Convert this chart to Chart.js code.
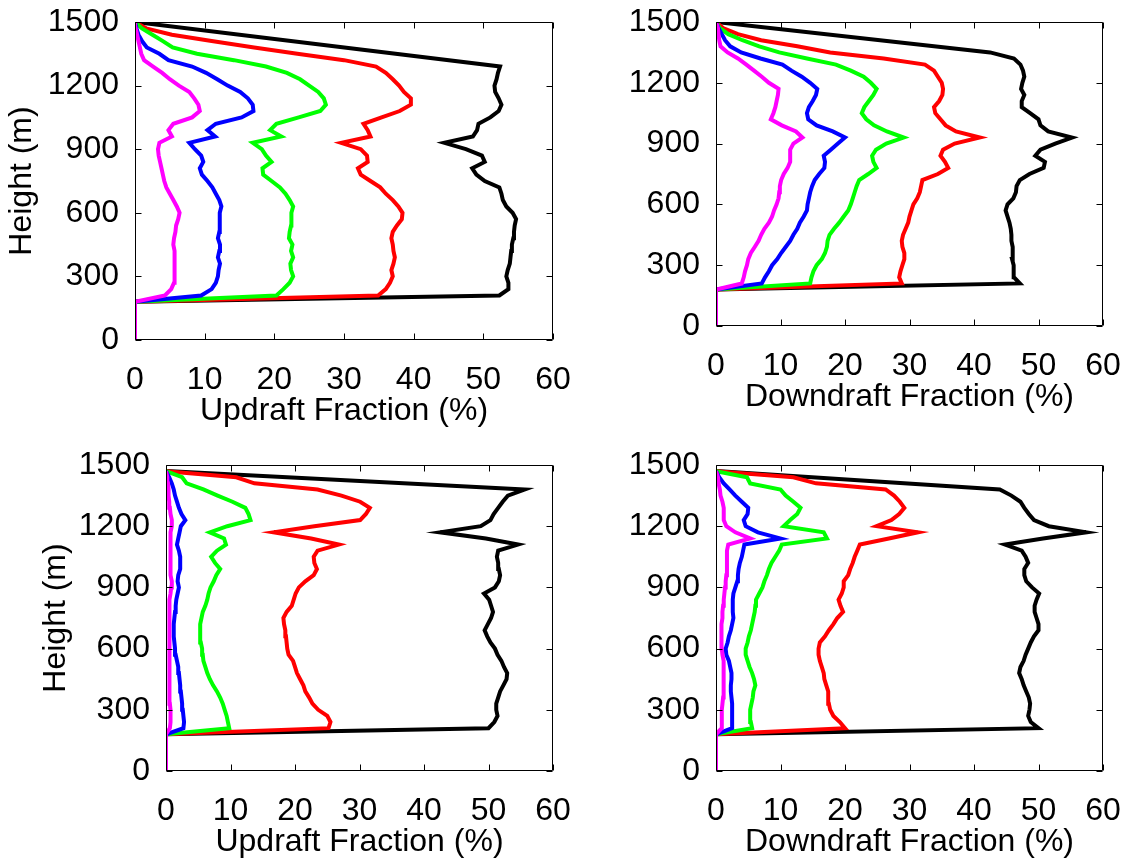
<!DOCTYPE html>
<html>
<head>
<meta charset="utf-8">
<script src="https://cdn.jsdelivr.net/npm/chart.js@4.4.1/dist/chart.umd.min.js"></script>
<style>
  html, body { margin: 0; background: #fff; }
  #wrap { position: relative; width: 1127px; height: 867px; overflow: hidden; }
  canvas { position: absolute; }
</style>
</head>
<body>
<div id="wrap"></div>
<script>
// height levels (m), shared by every profile
const heights = [0, 180, 210, 240, 270, 300, 330, 360, 390, 420,
  450, 480, 510, 540, 570, 600, 630, 660, 690, 720,
  750, 780, 810, 840, 870, 900, 930, 960, 990, 1020,
  1050, 1080, 1110, 1140, 1170, 1200, 1230, 1260, 1290, 1320,
  1350, 1380, 1410, 1440, 1470, 1500];

const xTicks = [0, 10, 20, 30, 40, 50, 60];
const yTicks = [0, 300, 600, 900, 1200, 1500];

// top left: updraft fraction (%)
const upTopBlack = [0, 0, 52.3, 53.6, 53.6, 53.3, 53.5, 53.8, 53.9, 54.0,
  54.1, 54.3, 54.4, 54.5, 54.7, 54.2, 53.3, 52.8, 52.6, 52.3,
  50.2, 49.0, 48.4, 50.2, 49.8, 47.5, 44.4, 48.5, 49.1, 49.3,
  51.0, 52.2, 52.6, 52.2, 51.7, 51.6, 51.9, 52.1, 52.4, null,
  null, null, null, null, null, 0];
const upTopRed = [0, 0, 34.9, 36.0, 36.6, 37.0, 36.8, 37.1, 37.3, 37.1,
  37.0, 36.8, 37.0, 37.6, 38.3, 38.4, 37.8, 37.0, 36.0, 35.2,
  33.8, 32.4, 32.0, 33.4, 33.3, 32.4, 29.6, 33.8, 33.4, 32.8,
  35.4, 38.0, 39.6, 39.6, 38.6, 37.9, 37.0, 36.0, 34.6, 30.0,
  23.3, 17.1, 11.0, 5.3, 1.6, 0];
const upTopGreen = [0, 0, 20.3, 21.3, 22.2, 22.7, 22.4, 22.3, 22.7, 22.4,
  22.6, 22.1, 22.2, 22.4, 22.4, 22.5, 22.7, 22.2, 21.6, 20.8,
  19.6, 18.4, 18.3, 19.6, 18.8, 18.2, 16.9, 21.0, 19.4, 20.3,
  23.5, 26.6, 27.4, 27.1, 26.3, 25.0, 23.7, 21.8, 18.8, 14.2,
  8.9, 5.4, 4.0, 2.5, 1.0, 0];
const upTopBlue = [0, 0, 9.5, 11.0, 11.6, 11.9, 12.0, 12.2, 11.9, 12.1,
  12.2, 11.9, 12.1, 12.2, 12.1, 12.2, 12.4, 12.1, 11.6, 11.1,
  10.4, 9.6, 9.3, 9.8, 9.5, 8.6, 7.8, 11.5, 10.4, 11.6,
  15.3, 17.0, 16.9, 16.2, 15.1, 13.3, 11.8, 10.2, 8.2, 4.8,
  3.5, 1.7, 1.0, 0.5, 0.2, 0];
const upTopMagenta = [0, 0, 4.3, 5.2, 5.6, 5.7, 5.7, 5.7, 5.7, 5.6,
  5.5, 5.6, 5.8, 5.9, 6.2, 6.4, 6.0, 5.5, 5.0, 4.5,
  4.2, 4.0, 3.8, 3.6, 3.4, 3.3, 3.5, 5.3, 4.8, 5.5,
  8.2, 9.3, 9.1, 8.5, 7.8, 6.3, 5.0, 3.9, 2.6, 1.3,
  0.9, 0.7, 0.5, 0.3, 0.1, 0];

// top right: downdraft fraction (%)
const downTopBlack = [0, 0, 47.1, 46.2, 46.2, 46.1, 45.9, 46.0, 46.0, 45.8,
  45.8, 45.7, 45.5, 45.2, 44.9, 45.2, 46.1, 46.5, 46.6, 47.1,
  48.6, 50.8, 51.0, 49.5, 50.3, 52.6, 55.2, 51.5, 50.3, 50.0,
  48.7, 47.4, 47.4, 47.8, 47.3, 47.5, 47.8, 47.6, 47.2, 46.2,
  42.5, null, null, null, null, 0];
const downTopRed = [0, 0, 28.8, 28.4, 28.6, 28.9, 29.2, 29.2, 28.9, 28.8,
  29.0, 29.4, 29.8, 30.0, 30.3, 30.6, 31.2, 31.6, 31.8, 32.0,
  34.4, 36.0, 35.5, 34.8, 35.2, 37.0, 40.9, 37.2, 35.6, 34.8,
  34.0, 33.8, 34.6, 35.1, 35.2, 35.0, 34.4, 33.8, 32.4, 26.0,
  17.7, 12.6, 7.0, 3.4, 1.1, 0];
const downTopGreen = [0, 0, 14.6, 14.8, 15.1, 15.6, 16.4, 16.9, 17.2, 17.3,
  17.6, 18.3, 19.1, 19.8, 20.5, 20.9, 21.2, 21.5, 21.8, 22.2,
  23.6, 24.9, 24.4, 24.2, 24.8, 26.4, 29.1, 26.5, 24.5, 23.3,
  22.6, 23.0, 23.7, 24.4, 24.9, 24.0, 22.9, 20.9, 18.6, 14.1,
  9.8, 6.7, 4.1, 1.9, 0.6, 0];
const downTopBlue = [0, 0, 7.1, 7.6, 8.2, 8.7, 9.5, 10.1, 10.8, 11.5,
  12.0, 12.6, 13.0, 13.6, 14.1, 14.2, 14.4, 14.6, 14.9, 15.3,
  16.0, 16.8, 16.9, 16.7, 17.8, 18.9, 20.0, 18.1, 15.6, 14.3,
  14.1, 14.4, 15.0, 15.5, 15.7, 14.6, 13.3, 11.7, 10.3, 6.9,
  3.9, 2.2, 1.4, 0.9, 0.4, 0];
const downTopMagenta = [0, 0, 4.0, 4.3, 4.5, 4.8, 5.0, 5.4, 6.0, 6.6,
  7.0, 7.5, 8.2, 8.7, 9.0, 9.4, 9.7, 9.8, 9.9, 10.1,
  10.5, 11.1, 11.5, 11.5, 11.5, 12.0, 13.4, 12.4, 10.2, 8.5,
  8.9, 9.2, 9.4, 9.6, 9.7, 8.2, 7.1, 5.9, 4.7, 3.4,
  1.8, 0.7, 0.5, 0.4, 0.3, 0];

// bottom left: updraft fraction (%)
const upBotBlack = [0, 0, 50.0, 50.9, 51.4, 51.2, 51.2, 51.5, 51.8, 52.3,
  52.8, 52.9, 52.4, 52.0, 51.4, 51.0, 50.3, 49.8, 49.4, 49.9,
  50.4, 50.7, 50.4, 50.1, 49.3, 51.0, 51.6, 51.8, 51.6, 51.5,
  51.3, 51.5, 54.6, 49.6, 42.5, 48.8, 50.3, 50.8, 51.5, 52.2,
  53.0, 55.6, null, null, 0, null];
const upBotRed = [0, 0, 25.2, 25.5, 25.0, 23.6, 22.7, 22.2, 21.6, 21.3,
  20.8, 20.3, 20.0, 19.7, 19.0, 18.8, 18.7, 18.6, 18.5, 18.3,
  18.2, 18.7, 19.5, 19.8, 20.1, 20.6, 21.6, 22.9, 23.4, 23.0,
  22.9, 23.5, 26.8, 22.5, 16.7, 23.0, 30.1, 31.0, 31.6, 30.1,
  27.2, 23.5, 13.7, 10.9, 0, null];
const upBotGreen = [0, 0, 9.8, 9.6, 9.4, 9.1, 8.8, 8.4, 7.9, 7.3,
  6.8, 6.4, 6.1, 5.8, 5.7, 5.6, 5.4, 5.3, 5.3, 5.3,
  5.5, 5.7, 6.1, 6.4, 6.6, 6.9, 7.4, 7.8, 8.4, 7.6,
  7.0, 7.9, 9.3, 9.0, 6.8, 9.5, 13.1, 12.8, 12.3, 10.3,
  8.0, 5.8, 3.2, 2.5, 0, null];
const upBotBlue = [0, 0, 2.7, 2.8, 2.7, 2.6, 2.5, 2.4, 2.3, 2.2,
  2.1, 2.0, 1.9, 1.7, 1.5, 1.4, 1.3, 1.2, 1.2, 1.2,
  1.3, 1.4, 1.5, 1.6, 1.8, 2.0, 1.8, 1.9, 2.2, 2.2,
  2.2, 2.0, 1.7, 1.9, 2.1, 2.3, 3.0, 2.4, 2.0, 1.7,
  1.4, 1.2, 0.9, 0.5, 0, null];
const upBotMagenta = [0, 0, 0.6, 0.7, 0.7, 0.7, 0.6, 0.6, 0.6, 0.6,
  0.5, 0.5, 0.5, 0.5, 0.5, 0.5, 0.5, 0.5, 0.5, 0.5,
  0.5, 0.6, 0.6, 0.6, 0.7, 0.8, 0.9, 0.7, 0.7, 0.7,
  0.7, 0.7, 0.7, 0.7, 0.7, 0.9, 0.9, 0.7, 0.6, 0.5,
  0.4, 0.4, 0.3, 0.2, 0, null];

// bottom right: downdraft fraction (%)
const downBotBlack = [0, 0, 50.0, 48.8, 48.4, 48.6, 48.7, 48.5, 48.1, 47.7,
  47.4, 47.0, 47.2, 47.7, 48.0, 48.4, 48.8, 49.3, 50.0, 50.0,
  49.7, 49.4, 49.4, 49.7, 50.1, 49.0, 48.1, 47.8, 47.8, 48.4,
  48.0, 47.4, 44.8, 50.7, 57.4, 51.6, 49.3, 48.5, 47.8, 47.2,
  45.8, 44.0, null, null, 0, null];
const downBotRed = [0, 0, 20.0, 19.2, 18.2, 17.7, 17.5, 17.4, 17.4, 17.1,
  16.8, 16.7, 16.4, 16.1, 15.9, 15.9, 16.1, 16.9, 17.5, 18.2,
  18.8, 19.7, 19.3, 19.0, 19.5, 19.8, 19.8, 20.5, 20.8, 21.2,
  21.5, 21.9, 22.3, 26.8, 31.3, 24.9, 27.2, 28.4, 29.2, 28.5,
  27.6, 26.3, 15.5, 12.0, 0, null];
const downBotGreen = [0, 0, 5.6, 5.4, 5.3, 5.3, 5.5, 5.7, 5.8, 6.1,
  5.9, 5.6, 5.2, 4.9, 4.6, 4.6, 4.9, 5.1, 5.4, 5.6,
  5.8, 6.0, 6.1, 6.2, 6.7, 7.2, 7.5, 7.9, 8.2, 8.6,
  9.2, 9.8, 10.2, 17.2, 16.7, 10.5, 11.5, 12.6, 13.1, 12.0,
  10.8, 10.0, 5.3, 4.8, 0, null];
const downBotBlue = [0, 0, 2.5, 2.5, 2.5, 2.5, 2.5, 2.4, 2.3, 2.3,
  2.4, 2.4, 2.2, 2.0, 1.6, 1.5, 1.8, 2.0, 2.3, 2.5,
  2.7, 2.6, 2.6, 2.6, 2.7, 3.0, 3.3, 3.4, 3.5, 3.7,
  4.0, 4.2, 4.4, 10.0, 6.5, 4.6, 4.3, 4.9, 5.0, 4.0,
  3.0, 2.1, 1.2, 0.5, 0, null];
const downBotMagenta = [0, 0, 0.9, 0.9, 0.9, 0.9, 1.0, 1.1, 1.2, 1.2,
  1.2, 1.2, 1.2, 1.1, 1.0, 0.9, 0.8, 0.8, 0.9, 0.9,
  1.0, 1.0, 1.1, 1.2, 1.3, 1.4, 1.5, 1.6, 1.7, 1.7,
  1.7, 1.7, 1.9, 5.3, 3.0, 1.6, 1.2, 1.2, 1.2, 1.0,
  0.7, 0.6, 0.4, 0.3, 0, null];

// magenta first so it is painted on top, black painted first
const lineColors = ['#ff00ff', '#0000ff', '#00ff00', '#ff0000', '#000000'];

const FONT = '"Liberation Sans", Arial, Helvetica, sans-serif';
const font = { family: FONT, size: 32, lineHeight: 1 };

// plot area in page pixels: [left, top, right, bottom]
const panels = [
  { area: [135, 22, 553, 340], xTitle: 'Updraft Fraction (%)', yTitle: 'Height (m)', titleX: 22,
    series: [upTopMagenta, upTopBlue, upTopGreen, upTopRed, upTopBlack] },
  { area: [716, 22, 1103, 326], xTitle: 'Downdraft Fraction (%)', yTitle: null,
    series: [downTopMagenta, downTopBlue, downTopGreen, downTopRed, downTopBlack] },
  { area: [166, 465, 553, 771], xTitle: 'Updraft Fraction (%)', yTitle: 'Height (m)', titleX: 56,
    series: [upBotMagenta, upBotBlue, upBotGreen, upBotRed, upBotBlack] },
  { area: [716, 465, 1103, 771], xTitle: 'Downdraft Fraction (%)', yTitle: null,
    series: [downBotMagenta, downBotBlue, downBotGreen, downBotRed, downBotBlack] }
];

// box round the plot with inward ticks on all four sides, like matlab
const frame = {
  id: 'frame',
  afterDatasetsDraw(chart) {
    const { ctx, chartArea: a, scales: { x, y } } = chart;
    const L = Math.round(a.left) + 0.5, R = Math.round(a.right) - 0.5;
    const T = Math.round(a.top) + 0.5, B = Math.round(a.bottom) - 0.5;
    const len = 6;
    ctx.save();
    ctx.strokeStyle = '#000';
    ctx.lineWidth = 1;
    ctx.beginPath();
    ctx.rect(L, T, R - L, B - T);
    xTicks.forEach(v => {
      const px = Math.round(x.getPixelForValue(v)) + 0.5;
      ctx.moveTo(px, B); ctx.lineTo(px, B - len);
      ctx.moveTo(px, T); ctx.lineTo(px, T + len);
    });
    yTicks.forEach(v => {
      const py = Math.round(y.getPixelForValue(v)) + 0.5;
      ctx.moveTo(L, py); ctx.lineTo(L + len, py);
      ctx.moveTo(R, py); ctx.lineTo(R - len, py);
    });
    ctx.stroke();
    ctx.restore();
  }
};

const wrap = document.getElementById('wrap');
const padTop = 30, padRight = 40;
const xAxisH = 87, tickPad = 16;

panels.forEach(p => {
  const [l, t, r, b] = p.area;
  const yAxisW = p.yTitle ? l - p.titleX + 16 : 100;
  const w = yAxisW + (r - l) + padRight;
  const h = padTop + (b - t) + xAxisH;
  const cv = document.createElement('canvas');
  cv.width = w; cv.height = h;
  cv.style.left = (l - yAxisW) + 'px';
  cv.style.top = (t - padTop) + 'px';
  cv.style.width = w + 'px';
  cv.style.height = h + 'px';
  wrap.appendChild(cv);

  const datasets = p.series.map((vals, k) => ({
    data: heights.map((hh, i) => ({ x: vals[i], y: hh })).filter(d => d.x !== null),
    borderColor: lineColors[k],
    backgroundColor: lineColors[k],
    borderWidth: 4,
    showLine: true,
    pointRadius: 0,
    tension: 0,
    clip: 0
  }));

  new Chart(cv, {
    type: 'scatter',
    data: { datasets },
    plugins: [frame],
    options: {
      responsive: false,
      animation: false,
      devicePixelRatio: 1,
      layout: { padding: { left: 0, top: padTop, right: padRight, bottom: 0 } },
      plugins: { legend: { display: false }, tooltip: { enabled: false } },
      scales: {
        x: {
          type: 'linear', min: 0, max: 60,
          afterBuildTicks: s => { s.ticks = xTicks.map(v => ({ value: v })); },
          afterFit: s => { s.height = xAxisH; },
          grid: { display: false }, border: { display: false },
          ticks: { color: '#000', font, padding: tickPad, maxRotation: 0, autoSkip: false,
            callback: v => String(v) },
          title: { display: true, text: p.xTitle, color: '#000', font, padding: { top: 0, bottom: 0 } }
        },
        y: {
          type: 'linear', min: 0, max: 1500,
          afterBuildTicks: s => { s.ticks = yTicks.map(v => ({ value: v })); },
          afterFit: s => { s.width = yAxisW; },
          grid: { display: false }, border: { display: false },
          ticks: { color: '#000', font, padding: 8, autoSkip: false,
            callback: v => String(v) },
          title: { display: !!p.yTitle, text: p.yTitle || '', color: '#000', font, padding: { top: 0, bottom: 0 } }
        }
      }
    }
  });
});
</script>
</body>
</html>
